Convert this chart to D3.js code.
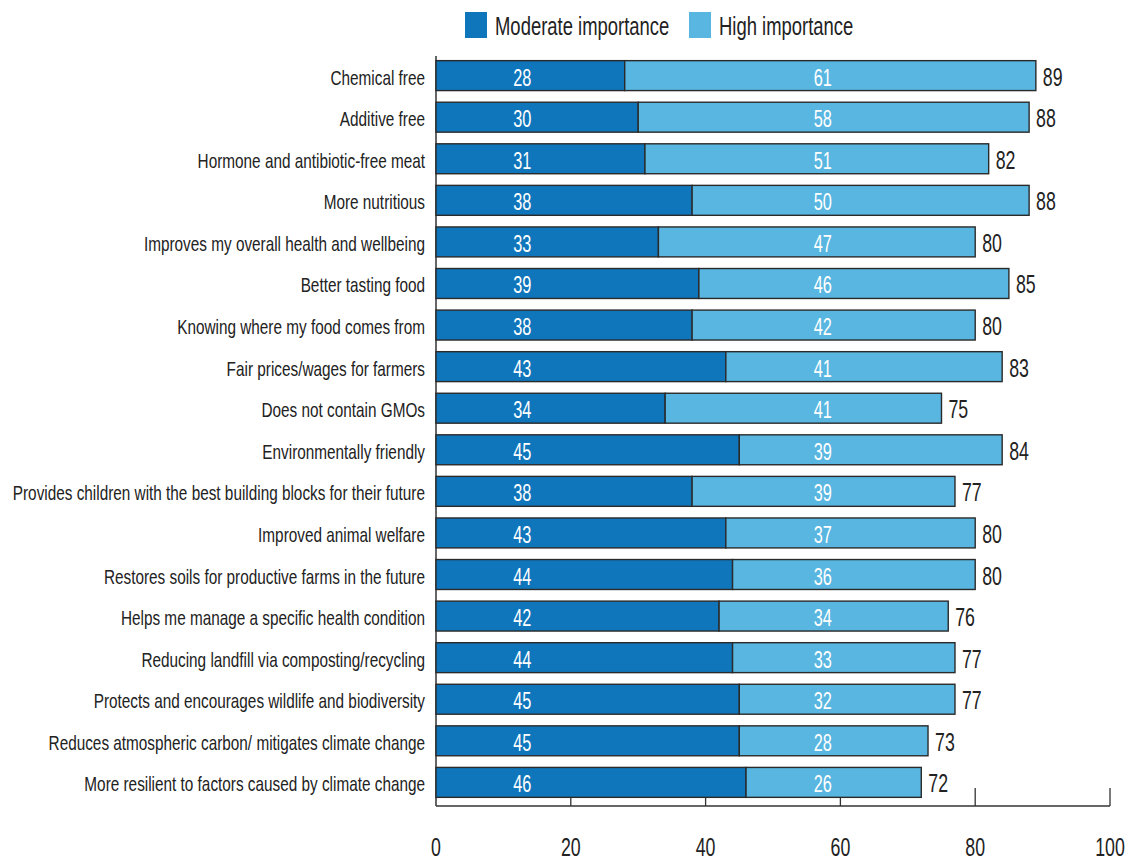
<!DOCTYPE html>
<html>
<head>
<meta charset="utf-8">
<script src="https://cdn.jsdelivr.net/npm/d3@7"></script>
<style>
  html, body { margin: 0; padding: 0; background: #fff; }
  svg { display: block; }
  text { font-family: "Liberation Sans", Arial, sans-serif; }
</style>
</head>
<body>
<svg id="chart" width="1137" height="862"></svg>
<script>
// Reasons for choosing, share of respondents (%)
const categories = [
  "Chemical free",
  "Additive free",
  "Hormone and antibiotic-free meat",
  "More nutritious",
  "Improves my overall health and wellbeing",
  "Better tasting food",
  "Knowing where my food comes from",
  "Fair prices/wages for farmers",
  "Does not contain GMOs",
  "Environmentally friendly",
  "Provides children with the best building blocks for their future",
  "Improved animal welfare",
  "Restores soils for productive farms in the future",
  "Helps me manage a specific health condition",
  "Reducing landfill via composting/recycling",
  "Protects and encourages wildlife and biodiversity",
  "Reduces atmospheric carbon/ mitigates climate change",
  "More resilient to factors caused by climate change"
];
const moderate = [28, 30, 31, 38, 33, 39, 38, 43, 34, 45, 38, 43, 44, 42, 44, 45, 45, 46];
const high     = [61, 58, 51, 50, 47, 46, 42, 41, 41, 39, 39, 37, 36, 34, 33, 32, 28, 26];
const totals   = [89, 88, 82, 88, 80, 85, 80, 83, 75, 84, 77, 80, 80, 76, 77, 77, 73, 72];
const seriesNames = ["Moderate importance", "High importance"];
const xTicks = [0, 20, 40, 60, 80, 100];

const colors = ["#1076bb", "#58b6e0"];
const condense = 0.71; // horizontal squeeze for a condensed type look

const svg = d3.select("#chart");
const plotLeft = 436, plotRight = 1110;
const plotTop = 54, plotBottom = 806;

const x = d3.scaleLinear().domain([0, 100]).range([plotLeft, plotRight]);
const y = d3.scaleBand().domain(categories).range([plotTop, plotBottom - 2]).paddingInner(0.28).paddingOuter(0.16);

// Condensed text helper: positions via transform, squeezes horizontally
function ctext(sel, fx, fy, sx = condense) {
  return sel.append("text")
    .attr("transform", (d, i) => `translate(${fx(d, i)},${fy(d, i)}) scale(${sx},1)`);
}

// Axis ticks first so bars sit over them
const axisG = svg.append("g").attr("transform", `translate(0,${plotBottom})`);
axisG.append("line").attr("x1", x(0)).attr("x2", x(100)).attr("y1", 0).attr("y2", 0)
  .attr("stroke", "#333").attr("stroke-width", 1.5);
axisG.selectAll("line.tick").data(xTicks.slice(1)).join("line")
  .attr("class", "tick")
  .attr("x1", d => x(d)).attr("x2", d => x(d)).attr("y1", 0).attr("y2", -18)
  .attr("stroke", "#333").attr("stroke-width", 1.3);
axisG.selectAll("text").data(xTicks).join("text")
  .attr("transform", d => `translate(${x(d)},50) scale(${condense},1)`)
  .attr("text-anchor", "middle")
  .attr("font-size", 25).attr("fill", "#222")
  .text(d => d);

// Vertical axis line
svg.append("line").attr("x1", x(0)).attr("x2", x(0)).attr("y1", plotTop + 2).attr("y2", plotBottom)
  .attr("stroke", "#333").attr("stroke-width", 1.5);

const rows = categories.map((c, i) => ({ c, m: moderate[i], h: high[i], t: totals[i] }));
const rowG = svg.append("g").selectAll("g").data(rows).join("g")
  .attr("transform", d => `translate(0,${y(d.c)})`);
const bh = y.bandwidth();

rowG.append("rect")
  .attr("x", x(0)).attr("y", 0)
  .attr("width", d => x(d.m) - x(0)).attr("height", bh)
  .attr("fill", colors[0]).attr("stroke", "#2a2a2a").attr("stroke-width", 1.4);
rowG.append("rect")
  .attr("x", d => x(d.m)).attr("y", 0)
  .attr("width", d => x(d.m + d.h) - x(d.m)).attr("height", bh)
  .attr("fill", colors[1]).attr("stroke", "#2a2a2a").attr("stroke-width", 1.4);

// Segment values
ctext(rowG, () => x(12.8), () => bh / 2 + 10)
  .attr("text-anchor", "middle").attr("font-size", 23).attr("fill", "#fff")
  .text(d => d.m);
ctext(rowG, () => x(57.4), () => bh / 2 + 10)
  .attr("text-anchor", "middle").attr("font-size", 23).attr("fill", "#fff")
  .text(d => d.h);

// Totals
ctext(rowG, d => x(d.m + d.h) + 7, () => bh / 2 + 10)
  .attr("font-size", 25).attr("fill", "#222")
  .text(d => d.t);

// Category labels
ctext(rowG, () => 425, () => bh / 2 + 9, 0.73)
  .attr("text-anchor", "end").attr("font-size", 21).attr("fill", "#222")
  .text(d => d.c);

// Legend
const legend = svg.append("g");
const legendItems = [{ name: seriesNames[0], x: 465 }, { name: seriesNames[1], x: 689 }];
legendItems.forEach((d, i) => {
  legend.append("rect").attr("x", d.x).attr("y", 12).attr("width", 22).attr("height", 26)
    .attr("fill", colors[i]);
  legend.append("text")
    .attr("transform", `translate(${d.x + 30},35) scale(${condense},1)`)
    .attr("font-size", 26).attr("fill", "#222").text(d.name);
});
</script>
</body>
</html>
